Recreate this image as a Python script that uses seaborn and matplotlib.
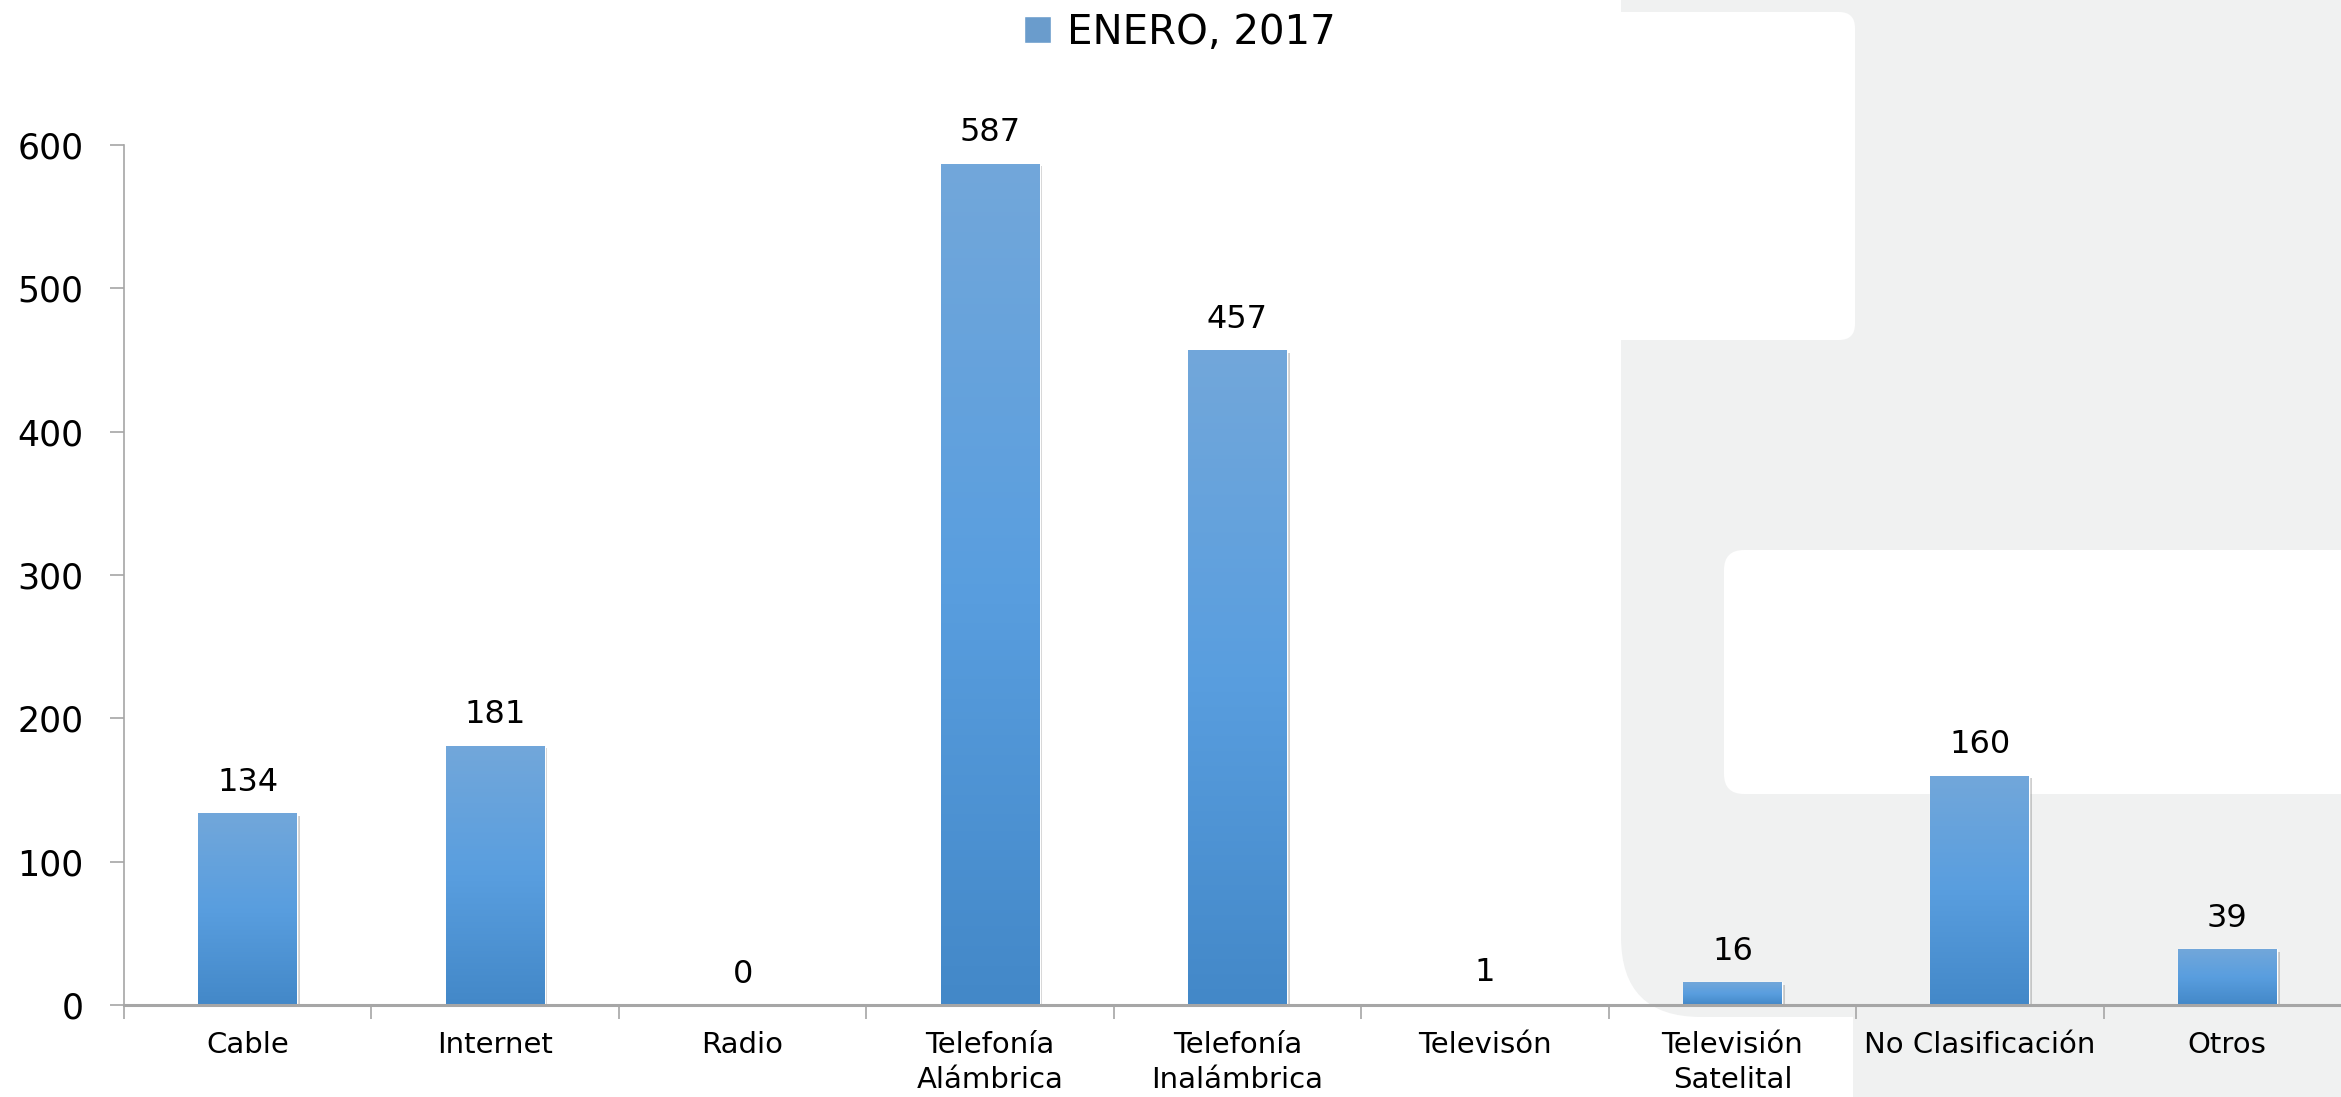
import numpy as np
import pandas as pd
import matplotlib
matplotlib.use("Agg")
import matplotlib.pyplot as plt
import matplotlib.patheffects as pe
from matplotlib.patches import FancyBboxPatch
from matplotlib.colors import LinearSegmentedColormap
import seaborn as sns

# data
categorias = ["Cable", "Internet", "Radio", "Telefonía\nAlámbrica", "Telefonía\nInalámbrica",
              "Televisón", "Televisión\nSatelital", "No Clasificación", "Otros"]
valores = [134, 181, 0, 587, 457, 1, 16, 160, 39]
periodo = "ENERO, 2017"
y_ticks = [0, 100, 200, 300, 400, 500, 600]

sns.set_style("white")
plt.rcParams['font.family'] = ['DejaVu Sans']
plt.rcParams['text.color'] = 'black'
plt.rcParams['xtick.labelcolor'] = 'black'
plt.rcParams['ytick.labelcolor'] = 'black'

W, H = 2341, 1097
fig = plt.figure(figsize=(W / 100, H / 100), dpi=100)
fig.patch.set_facecolor("white")

# light gray decoration on the right side (pixel coords, origin top-left)
gris = "#f0f1f1"
def caja(x0, y0, x1, y1, color, r):
    p = FancyBboxPatch((x0, H - y1), x1 - x0, y1 - y0,
                       boxstyle="round,pad=0,rounding_size=%d" % r,
                       transform=None, facecolor=color, edgecolor="none", zorder=-10)
    fig.patches.append(p)

caja(1621, -100, 2500, 1017, gris, 80)
caja(1853, 990, 2500, 1200, gris, 10)
caja(1500, 12, 1855, 340, "white", 16)
caja(1724, 550, 2500, 794, "white", 20)

ax = fig.add_axes([124 / W, 92 / H, (2351 - 124) / W, (1005 - 145) / H])
ax.set_facecolor("none")

df = pd.DataFrame({"categoria": categorias, "valor": valores, "periodo": periodo})
sns.barplot(data=df, x="categoria", y="valor", hue="periodo", palette=["#5a9ddc"],
            width=0.4, ax=ax, legend=True)

# gradient fill for each bar
cmap = LinearSegmentedColormap.from_list("azul", ["#4388c8", "#599edf", "#72a7da"])
grad = np.linspace(0, 1, 256).reshape(-1, 1)
for bar in ax.patches:
    if bar.get_height() <= 0:
        continue
    bar.set_path_effects([pe.SimplePatchShadow(offset=(2, -2), alpha=0.35, shadow_rgbFace="#777777"),
                          pe.Normal()])
    x0, w, h = bar.get_x(), bar.get_width(), bar.get_height()
    im = ax.imshow(grad, extent=[x0, x0 + w, 0, h], origin="lower", cmap=cmap,
                   aspect="auto", zorder=bar.get_zorder() + 0.1)
    im.set_clip_path(bar)

ax.bar_label(ax.containers[0], labels=[str(v) for v in valores], padding=11, fontsize=23)

ax.set_xlim(-0.5, len(categorias) - 0.5)
ax.set_ylim(0, 600)
ax.set_yticks(y_ticks)
ax.set_xlabel("")
ax.set_ylabel("")

for s in ["top", "right"]:
    ax.spines[s].set_visible(False)
ax.spines["left"].set_color("#a6a6a6")
ax.spines["left"].set_linewidth(1.2)
ax.spines["bottom"].set_color("#a6a6a6")
ax.spines["bottom"].set_linewidth(2.2)

ax.tick_params(axis="y", direction="out", length=10, width=1.2, color="#a6a6a6",
               labelsize=25, pad=19, left=True)
ax.tick_params(axis="x", which="major", length=0, labelsize=21, pad=19)
ax.set_xticks(np.arange(-0.5, len(categorias), 1), minor=True)
ax.tick_params(axis="x", which="minor", direction="out", length=10, width=1.2,
               color="#a6a6a6", bottom=True)
for t in ax.get_xticklabels():
    t.set_linespacing(1.3)

sns.move_legend(ax, "center", bbox_to_anchor=(1180 / W, 1 - 33 / H),
                bbox_transform=fig.transFigure, title=None, frameon=False,
                fontsize=29, handlelength=0.65, handleheight=0.65, handletextpad=0.4)

fig.savefig("out.png", dpi=100)
